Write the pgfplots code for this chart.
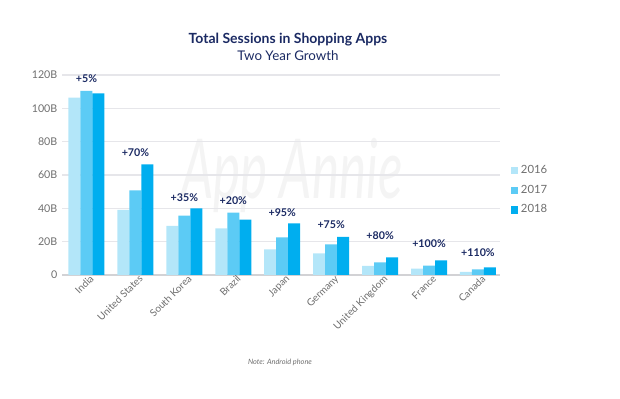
\documentclass[border=0pt]{standalone}
\usepackage{pgfplots}
\pgfplotsset{compat=1.18}
\usepackage{fontspec}
\setmainfont{Lato}
\definecolor{c16}{HTML}{B3E6F9}
\definecolor{c17}{HTML}{5CCBF5}
\definecolor{c18}{HTML}{00AEEF}
\definecolor{navy}{HTML}{1B2A63}
\definecolor{tickgray}{HTML}{6E6E6E}
\definecolor{gridgray}{HTML}{E6E6EA}
\begin{document}
\begin{tikzpicture}[x=0.75pt,y=0.75pt]
\path[use as bounding box] (-62,-124) rectangle (558,275);
\node[text=gray!9,font=\fontsize{62}{62}\selectfont\itshape,xscale=0.62] at (230,100) {App Annie};
\begin{axis}[
  at={(0,0)}, anchor=south west,
  scale only axis, width=328.5pt, height=150pt,
  ybar=0pt, bar width=9pt,
  xmin=-0.5, xmax=8.45, ymin=0, ymax=120,
  ytick={0,20,...,120},
  yticklabels={0,20B,40B,60B,80B,100B,120B},
  xtick=data,
  xticklabels={India,United States,South Korea,Brazil,Japan,Germany,United Kingdom,France,Canada},
  xticklabel style={rotate=45, anchor=north east, font=\fontsize{7.5}{8}\selectfont, text=tickgray, inner sep=1pt, xshift=3pt},
  yticklabel style={font=\fontsize{8}{9}\selectfont, text=tickgray},
  /pgf/number format/assume math mode=true,
  ymajorgrids, grid style={gridgray, line width=0.8pt},
  axis x line*=bottom,
  axis y line*=left,
  y axis line style={draw=none},
  x axis line style={gridgray!80!gray, line width=0.8pt},
  tick style={draw=none},
  major tick length=0pt,
  legend style={at={(1.015,0.575)}, anchor=north west, draw=none, fill=none,
    font=\fontsize{8.5}{10}\selectfont, text=tickgray, row sep=3pt, legend cell align=left},
  legend image code/.code={\fill[#1] (0pt,-2.8pt) rectangle (5.6pt,2.8pt);},
  clip=false,
]
\addplot[fill=c16, draw=none] coordinates {(0,106.4) (1,39) (2,29.5) (3,28) (4,15.3) (5,13) (6,5.4) (7,3.8) (8,1.8)};
\addplot[fill=c17, draw=none] coordinates {(0,110.5) (1,50.7) (2,35.6) (3,37.4) (4,22.5) (5,18.3) (6,7.6) (7,5.6) (8,3.4)};
\addplot[fill=c18, draw=none] coordinates {(0,109) (1,66.3) (2,40) (3,33.2) (4,31) (5,22.9) (6,10.6) (7,8.8) (8,4.6)};
\legend{2016,2017,2018}
\begin{scope}[every node/.style={font=\bfseries\fontsize{8}{9}\selectfont, text=navy}]
\node at (axis cs:0,117.6) {+5\%};
\node at (axis cs:1,73.4) {+70\%};
\node at (axis cs:2,46.7) {+35\%};
\node at (axis cs:3,44.8) {+20\%};
\node at (axis cs:4,37.6) {+95\%};
\node at (axis cs:5,30.4) {+75\%};
\node at (axis cs:6,23.5) {+80\%};
\node at (axis cs:7,18.7) {+100\%};
\node at (axis cs:8,13.3) {+110\%};
\end{scope}
\end{axis}
\node[text=navy, font=\bfseries\fontsize{10.5}{12}\selectfont] at (226,235) {Total Sessions in Shopping Apps};
\node[text=navy, font=\fontsize{10}{12}\selectfont] at (226,219) {Two Year Growth};
\node[text=tickgray, font=\itshape\fontsize{5.5}{6}\selectfont] at (218,-87) {Note: Android phone};
\end{tikzpicture}
\end{document}
